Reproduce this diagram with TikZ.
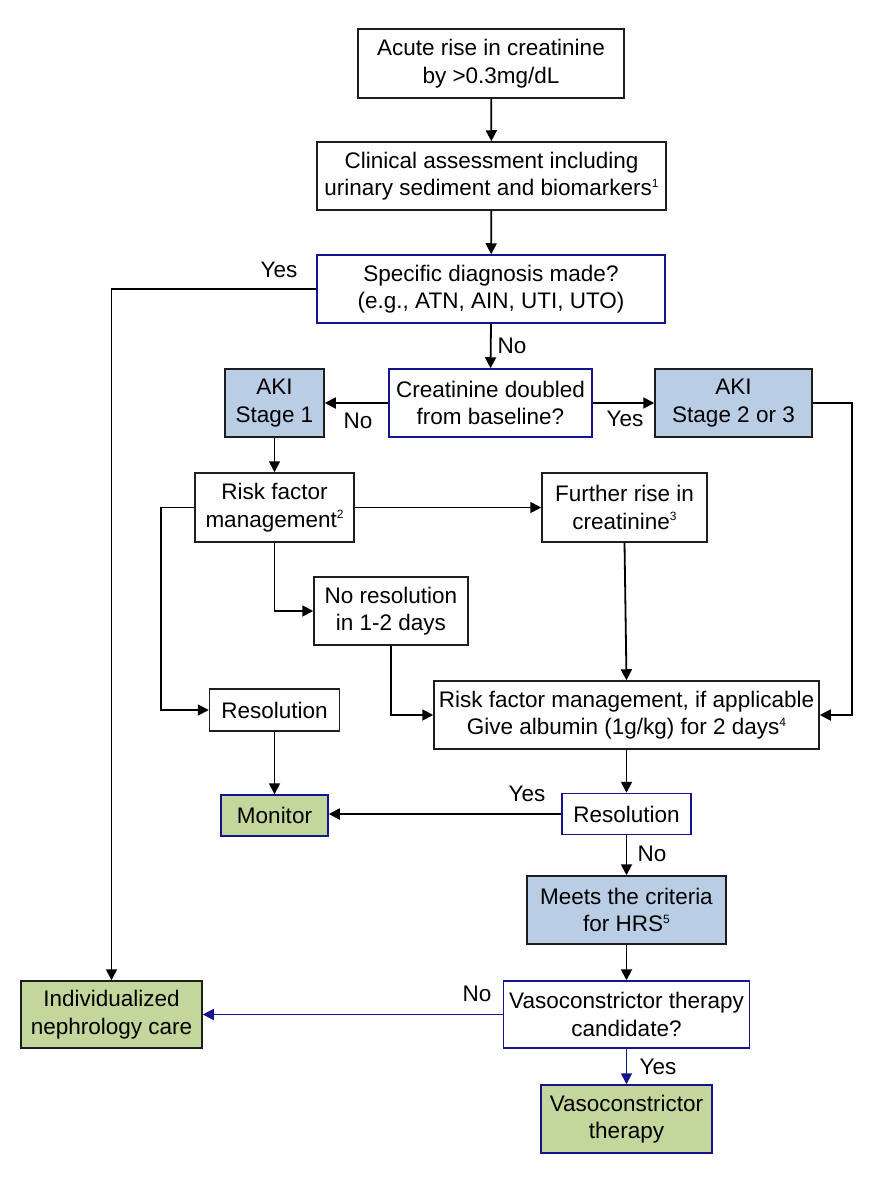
\documentclass[tikz,border=0pt]{standalone}
\usepackage{fontspec}
\setmainfont{Liberation Sans}
\usetikzlibrary{arrows.meta}
\definecolor{boxblue}{RGB}{185,205,229}
\definecolor{boxgreen}{RGB}{195,214,155}
\definecolor{navyline}{RGB}{20,20,140}
\definecolor{darkline}{RGB}{30,30,30}
\newcommand{\sups}[1]{\raisebox{0.7ex}{\fontsize{12}{12}\selectfont #1}}
\begin{document}
\begin{tikzpicture}[x=1pt,y=-1pt,
  box/.style={draw=darkline,line width=1.5pt,fill=white,rectangle,inner sep=0pt,align=center,
    font=\fontsize{22.5}{27.5}\selectfont},
  bluebox/.style={box,draw=navyline},
  akibox/.style={box,fill=boxblue},
  greenbox/.style={box,fill=boxgreen,draw=navyline},
  arr/.style={line width=1.8pt,draw=black,-{Triangle[length=11pt,width=11pt]}},
  barr/.style={line width=1.8pt,draw=navyline,-{Triangle[length=11pt,width=11pt]}},
  lbl/.style={font=\fontsize{22.5}{26}\selectfont,inner sep=0pt}]
\useasboundingbox (0,0) rectangle (887,1177);
\node[box,minimum width=266pt,minimum height=69pt] (acute) at (491,63.5) {Acute rise in creatinine\\by >0.3mg/dL};
\node[box,minimum width=349pt,minimum height=68pt] (clin) at (491.5,176) {Clinical assessment including\\urinary sediment and biomarkers\sups{1}};
\node[bluebox,minimum width=348pt,minimum height=68pt] (spec) at (491,289) {Specific diagnosis made?\\(e.g., ATN, AIN, UTI, UTO)};
\node[bluebox,minimum width=203pt,minimum height=68pt] (dbl) at (490.5,403) {Creatinine doubled\\from baseline?};
\node[akibox,minimum width=99pt,minimum height=68pt] (aki1) at (274.5,403) {AKI\\Stage 1};
\node[akibox,minimum width=157pt,minimum height=68pt] (aki2) at (733.5,403) {AKI\\Stage 2 or 3};
\node[box,minimum width=159pt,minimum height=69pt] (risk) at (274.5,507.5) {Risk factor\\management\sups{2}};
\node[box,minimum width=165pt,minimum height=69pt] (further) at (624.5,507.5) {Further rise in\\creatinine\sups{3}};
\node[box,minimum width=154pt,minimum height=68pt] (nores) at (391,611) {No resolution\\in 1-2 days};
\node[box,minimum width=130pt,minimum height=42pt] (resl) at (274.5,710) {Resolution};
\node[box,minimum width=385pt,minimum height=68pt] (big) at (626.5,715) {Risk factor management, if applicable\\Give albumin (1g/kg) for 2 days\sups{4}};
\node[bluebox,minimum width=129pt,minimum height=41pt] (resr) at (626.5,814) {Resolution};
\node[greenbox,minimum width=107pt,minimum height=41pt] (monitor) at (274.5,815.5) {Monitor};
\node[akibox,minimum width=199pt,minimum height=68pt] (meets) at (626.5,910) {Meets the criteria\\for HRS\sups{5}};
\node[bluebox,minimum width=246pt,minimum height=67pt] (vcand) at (626.5,1014.5) {Vasoconstrictor therapy\\candidate?};
\node[greenbox,draw=darkline,minimum width=181pt,minimum height=67pt] (indiv) at (111.5,1014.5) {Individualized\\nephrology care};
\node[greenbox,minimum width=171pt,minimum height=68pt] (vther) at (626.5,1119) {Vasoconstrictor\\therapy};
\coordinate (rr) at (852,403);
\coordinate (ll) at (161,507.5);
% connectors
\draw[arr] (acute) -- (clin);
\draw[arr] (clin) -- (spec);
\draw[arr] (spec.west) -| (indiv.north);
\draw[arr] (spec.south) -- (dbl.north);
\draw[arr] (dbl.west) -- (dbl.west -| aki1.east);
\draw[arr] (dbl.east) -- (dbl.east -| aki2.west);
\draw[arr] (aki2.east) -- (rr) |- (big.east);
\draw[arr] (aki1) -- (risk);
\draw[arr] (risk.east) -- (further.west);
\draw[arr] (risk.south) |- (nores.west);
\draw[arr] (risk.west) -- (risk.west -| ll) |- (resl.west);
\draw[arr] (nores.south) |- (big.west);
\draw[arr] (further.south) -- (big.north);
\draw[arr] (resl) -- (monitor);
\draw[arr] (big.south) -- (resr.north);
\draw[arr] (resr.west) -- (resr.west -| monitor.east);
\draw[arr] (resr) -- (meets);
\draw[arr] (meets.south) -- (vcand.north);
\draw[barr] (vcand.west) -- (indiv.east);
\draw[barr] (vcand.south) -- (vther.north);
% labels
\node[lbl] (l1) at (279,270) {Yes};
\node[lbl] (l2) at (512,346) {No};
\node[lbl] (l3) at (358,421) {No};
\node[lbl] (l4) at (625,419) {Yes};
\node[lbl] (l5) at (527,794) {Yes};
\node[lbl] (l6) at (652,854) {No};
\node[lbl] (l7) at (477,994) {No};
\node[lbl] (l8) at (658,1067) {Yes};
\end{tikzpicture}
\end{document}
